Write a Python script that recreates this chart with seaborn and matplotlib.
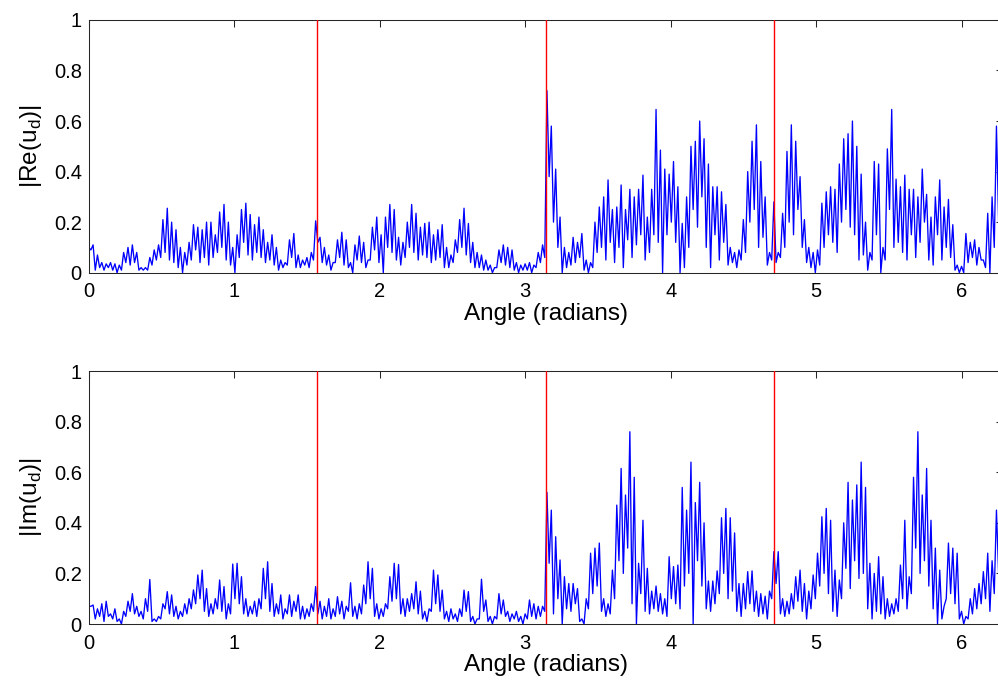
import numpy as np
import pandas as pd
import matplotlib
matplotlib.use("Agg")
import matplotlib.pyplot as plt
import seaborn as sns

# Local maxima of |Re(u_d)| and |Im(u_d)|, one every 0.03 rad starting at 0
re_peaks = [
    0.10, 0.11, 0.07, 0.04, 0.035, 0.04, 0.035, 0.03, 0.08, 0.10,
    0.11, 0.08, 0.02, 0.02, 0.06, 0.09, 0.11, 0.21, 0.255, 0.20,
    0.17, 0.10, 0.08, 0.12, 0.19, 0.18, 0.17, 0.20, 0.20, 0.15,
    0.24, 0.27, 0.20, 0.10, 0.15, 0.25, 0.275, 0.23, 0.19, 0.22,
    0.17, 0.12, 0.15, 0.10, 0.05, 0.04, 0.13, 0.155, 0.07, 0.05,
    0.06, 0.08, 0.205, 0.14, 0.10, 0.07, 0.04, 0.13, 0.16, 0.13,
    0.04, 0.11, 0.145, 0.12, 0.05, 0.18, 0.22, 0.15, 0.22, 0.27,
    0.25, 0.14, 0.12, 0.20, 0.27, 0.235, 0.18, 0.195, 0.20, 0.15,
    0.17, 0.19, 0.10, 0.07, 0.13, 0.21, 0.255, 0.195, 0.12, 0.08,
    0.07, 0.05, 0.03, 0.02, 0.09, 0.11, 0.10, 0.09, 0.04, 0.03,
    0.035, 0.04, 0.03, 0.08, 0.11, 0.72, 0.58, 0.41, 0.22, 0.10,
    0.08, 0.14, 0.12, 0.155, 0.05, 0.04, 0.20, 0.26, 0.30, 0.367,
    0.25, 0.26, 0.347, 0.25, 0.33, 0.30, 0.33, 0.386, 0.22, 0.33,
    0.646, 0.485, 0.41, 0.39, 0.44, 0.34, 0.195, 0.30, 0.50, 0.52,
    0.60, 0.53, 0.43, 0.34, 0.34, 0.32, 0.27, 0.10, 0.08, 0.09,
    0.21, 0.40, 0.52, 0.585, 0.44, 0.30, 0.08, 0.28, 0.08, 0.235,
    0.48, 0.585, 0.52, 0.38, 0.21, 0.10, 0.08, 0.09, 0.275, 0.32,
    0.34, 0.33, 0.43, 0.53, 0.55, 0.60, 0.50, 0.39, 0.20, 0.08,
    0.44, 0.43, 0.10, 0.49, 0.646, 0.37, 0.34, 0.386, 0.33, 0.33,
    0.30, 0.41, 0.31, 0.22, 0.30, 0.367, 0.26, 0.29, 0.19, 0.03,
    0.025, 0.155, 0.12, 0.13, 0.10, 0.05, 0.235, 0.30, 0.58, 0.40,
]

# Local minima between consecutive maxima
re_dips = [
    0.09, 0.01, 0.02, 0.01, 0.02, 0.01, 0.00, 0.01, 0.04, 0.03,
    0.04, 0.01, 0.01, 0.01, 0.03, 0.05, 0.06, 0.08, 0.05, 0.04,
    0.02, 0.00, 0.03, 0.05, 0.09, 0.04, 0.06, 0.03, 0.06, 0.08,
    0.10, 0.05, 0.03, 0.00, 0.06, 0.12, 0.07, 0.05, 0.08, 0.06,
    0.04, 0.05, 0.03, 0.01, 0.02, 0.03, 0.06, 0.02, 0.02, 0.03,
    0.02, 0.05, 0.12, 0.04, 0.03, 0.01, 0.04, 0.06, 0.03, 0.02,
    0.00, 0.05, 0.04, 0.02, 0.05, 0.09, 0.04, 0.00, 0.10, 0.08,
    0.05, 0.03, 0.06, 0.10, 0.08, 0.05, 0.07, 0.06, 0.04, 0.05,
    0.06, 0.02, 0.02, 0.04, 0.08, 0.10, 0.07, 0.04, 0.02, 0.02,
    0.01, 0.01, 0.00, 0.02, 0.04, 0.03, 0.02, 0.01, 0.00, 0.01,
    0.01, 0.00, 0.02, 0.04, 0.06, 0.38, 0.20, 0.10, 0.00, 0.02,
    0.03, 0.04, 0.06, 0.01, 0.00, 0.02, 0.08, 0.10, 0.05, 0.12,
    0.04, 0.10, 0.02, 0.13, 0.06, 0.11, 0.15, 0.05, 0.08, 0.15,
    0.12, 0.00, 0.15, 0.20, 0.12, 0.00, 0.02, 0.10, 0.25, 0.18,
    0.30, 0.10, 0.02, 0.15, 0.05, 0.12, 0.03, 0.04, 0.02, 0.05,
    0.08, 0.20, 0.25, 0.10, 0.14, 0.03, 0.05, 0.04, 0.06, 0.10,
    0.20, 0.15, 0.25, 0.10, 0.04, 0.02, 0.00, 0.03, 0.10, 0.15,
    0.12, 0.08, 0.20, 0.25, 0.18, 0.15, 0.05, 0.07, 0.01, 0.05,
    0.15, 0.00, 0.05, 0.25, 0.10, 0.12, 0.08, 0.05, 0.15, 0.06,
    0.12, 0.20, 0.05, 0.03, 0.15, 0.05, 0.10, 0.06, 0.01, 0.00,
    0.00, 0.04, 0.06, 0.03, 0.05, 0.02, 0.00, 0.10, 0.20, 0.15,
]

im_peaks = [
    0.07, 0.075, 0.06, 0.08, 0.09, 0.04, 0.06, 0.02, 0.05, 0.09,
    0.12, 0.07, 0.05, 0.10, 0.176, 0.02, 0.03, 0.08, 0.128, 0.115,
    0.07, 0.05, 0.08, 0.10, 0.135, 0.194, 0.213, 0.14, 0.08, 0.10,
    0.174, 0.148, 0.08, 0.237, 0.24, 0.187, 0.10, 0.07, 0.09, 0.10,
    0.22, 0.246, 0.16, 0.08, 0.115, 0.06, 0.115, 0.09, 0.115, 0.07,
    0.06, 0.08, 0.148, 0.09, 0.07, 0.10, 0.06, 0.108, 0.09, 0.07,
    0.163, 0.07, 0.08, 0.154, 0.246, 0.22, 0.08, 0.06, 0.08, 0.187,
    0.24, 0.235, 0.10, 0.10, 0.12, 0.167, 0.13, 0.05, 0.06, 0.213,
    0.194, 0.134, 0.05, 0.06, 0.04, 0.06, 0.134, 0.128, 0.03, 0.02,
    0.177, 0.095, 0.03, 0.03, 0.12, 0.095, 0.05, 0.04, 0.05, 0.03,
    0.04, 0.095, 0.08, 0.07, 0.07, 0.52, 0.45, 0.345, 0.253, 0.187,
    0.16, 0.16, 0.14, 0.02, 0.10, 0.28, 0.30, 0.32, 0.10, 0.08,
    0.213, 0.47, 0.615, 0.51, 0.76, 0.58, 0.24, 0.41, 0.22, 0.13,
    0.15, 0.12, 0.10, 0.266, 0.227, 0.233, 0.54, 0.45, 0.64, 0.48,
    0.56, 0.40, 0.17, 0.17, 0.21, 0.42, 0.457, 0.42, 0.36, 0.16,
    0.16, 0.207, 0.21, 0.13, 0.12, 0.11, 0.13, 0.286, 0.286, 0.10,
    0.09, 0.12, 0.187, 0.213, 0.16, 0.13, 0.194, 0.28, 0.424, 0.457,
    0.41, 0.213, 0.174, 0.40, 0.56, 0.49, 0.55, 0.64, 0.54, 0.24,
    0.20, 0.266, 0.187, 0.10, 0.08, 0.10, 0.233, 0.41, 0.187, 0.58,
    0.76, 0.51, 0.615, 0.41, 0.30, 0.213, 0.07, 0.32, 0.30, 0.28,
    0.05, 0.03, 0.10, 0.14, 0.16, 0.207, 0.28, 0.25, 0.45, 0.35,
]

im_dips = [
    0.07, 0.02, 0.03, 0.01, 0.03, 0.02, 0.01, 0.00, 0.03, 0.05,
    0.04, 0.03, 0.02, 0.05, 0.01, 0.01, 0.02, 0.06, 0.04, 0.03,
    0.02, 0.03, 0.04, 0.06, 0.08, 0.10, 0.05, 0.03, 0.04, 0.06,
    0.05, 0.02, 0.04, 0.10, 0.08, 0.04, 0.03, 0.04, 0.03, 0.06,
    0.10, 0.05, 0.03, 0.04, 0.02, 0.04, 0.03, 0.05, 0.02, 0.02,
    0.03, 0.05, 0.04, 0.02, 0.03, 0.02, 0.03, 0.04, 0.02, 0.05,
    0.03, 0.02, 0.04, 0.08, 0.10, 0.03, 0.02, 0.03, 0.06, 0.09,
    0.10, 0.04, 0.03, 0.05, 0.06, 0.04, 0.02, 0.01, 0.05, 0.08,
    0.05, 0.02, 0.01, 0.02, 0.01, 0.03, 0.05, 0.01, 0.00, 0.02,
    0.05, 0.01, 0.00, 0.02, 0.04, 0.03, 0.01, 0.02, 0.01, 0.00,
    0.02, 0.03, 0.02, 0.03, 0.05, 0.24, 0.04, 0.10, 0.00, 0.06,
    0.05, 0.08, 0.01, 0.00, 0.06, 0.12, 0.15, 0.05, 0.03, 0.04,
    0.10, 0.25, 0.20, 0.30, 0.08, 0.00, 0.12, 0.05, 0.04, 0.06,
    0.05, 0.04, 0.03, 0.10, 0.08, 0.06, 0.15, 0.20, 0.00, 0.25,
    0.15, 0.06, 0.05, 0.08, 0.12, 0.20, 0.10, 0.13, 0.05, 0.03,
    0.06, 0.08, 0.05, 0.03, 0.04, 0.02, 0.10, 0.16, 0.04, 0.03,
    0.04, 0.06, 0.09, 0.05, 0.02, 0.06, 0.10, 0.15, 0.20, 0.12,
    0.05, 0.03, 0.10, 0.22, 0.14, 0.25, 0.18, 0.20, 0.06, 0.02,
    0.05, 0.04, 0.02, 0.03, 0.04, 0.05, 0.10, 0.06, 0.12, 0.30,
    0.20, 0.25, 0.15, 0.06, 0.00, 0.02, 0.10, 0.12, 0.08, 0.02,
    0.00, 0.02, 0.04, 0.06, 0.08, 0.10, 0.05, 0.12, 0.20, 0.10,
]

marker_angles = [np.pi / 2, np.pi, 3 * np.pi / 2]
x_ticks = [0, 1, 2, 3, 4, 5, 6]
y_ticks = [0, 0.2, 0.4, 0.6, 0.8, 1]
x_label = "Angle (radians)"
y_labels = [r"|Re(u$_\mathregular{d}$)|", r"|Im(u$_\mathregular{d}$)|"]


def interleave(peaks, dips):
    vals = np.empty(len(peaks) + len(dips))
    vals[0::2] = peaks
    vals[1::2] = dips
    return vals


angle = np.linspace(0, 2 * np.pi, len(re_peaks) + len(re_dips))
frames = [
    pd.DataFrame({"angle": angle, "value": interleave(re_peaks, re_dips)}),
    pd.DataFrame({"angle": angle, "value": interleave(im_peaks, im_dips)}),
]

sns.set_theme(style="white")
plt.rcParams["font.family"] = ["Liberation Sans", "DejaVu Sans"]
plt.rcParams["mathtext.fontset"] = "custom"
plt.rcParams["mathtext.rm"] = "Liberation Sans"

fig = plt.figure(figsize=(9.98, 6.81), dpi=100)
positions = [
    [0.0889, 0.5996, 0.9161, 0.3711],
    [0.0889, 0.0837, 0.9161, 0.3715],
]

for pos, df, ylab in zip(positions, frames, y_labels):
    ax = fig.add_axes(pos)
    sns.lineplot(data=df, x="angle", y="value", ax=ax, color="#0000ff",
                 linewidth=0.95, estimator=None, sort=False)
    for a in marker_angles:
        ax.axvline(a, color="#ff0000", linewidth=1.0, zorder=3)
    ax.set_xlim(0, 2 * np.pi)
    ax.set_ylim(0, 1)
    ax.set_xticks(x_ticks)
    ax.set_yticks(y_ticks)
    ax.set_xticklabels([f"{t:g}" for t in x_ticks])
    ax.set_yticklabels([f"{t:g}" for t in y_ticks])
    ax.tick_params(direction="in", length=5, width=0.75, top=True, right=True,
                   labelsize=14.5, color="#262626", labelcolor="black")
    ax.tick_params(axis="x", pad=7)
    ax.tick_params(axis="y", pad=5)
    for s in ax.spines.values():
        s.set_visible(True)
        s.set_linewidth(0.75)
        s.set_color("#262626")
    ax.set_xlabel(x_label, fontsize=17.5, labelpad=1, color="black")
    ax.set_ylabel(ylab, fontsize=17.5, labelpad=7, color="black")

fig.savefig("out.png", dpi=100)
